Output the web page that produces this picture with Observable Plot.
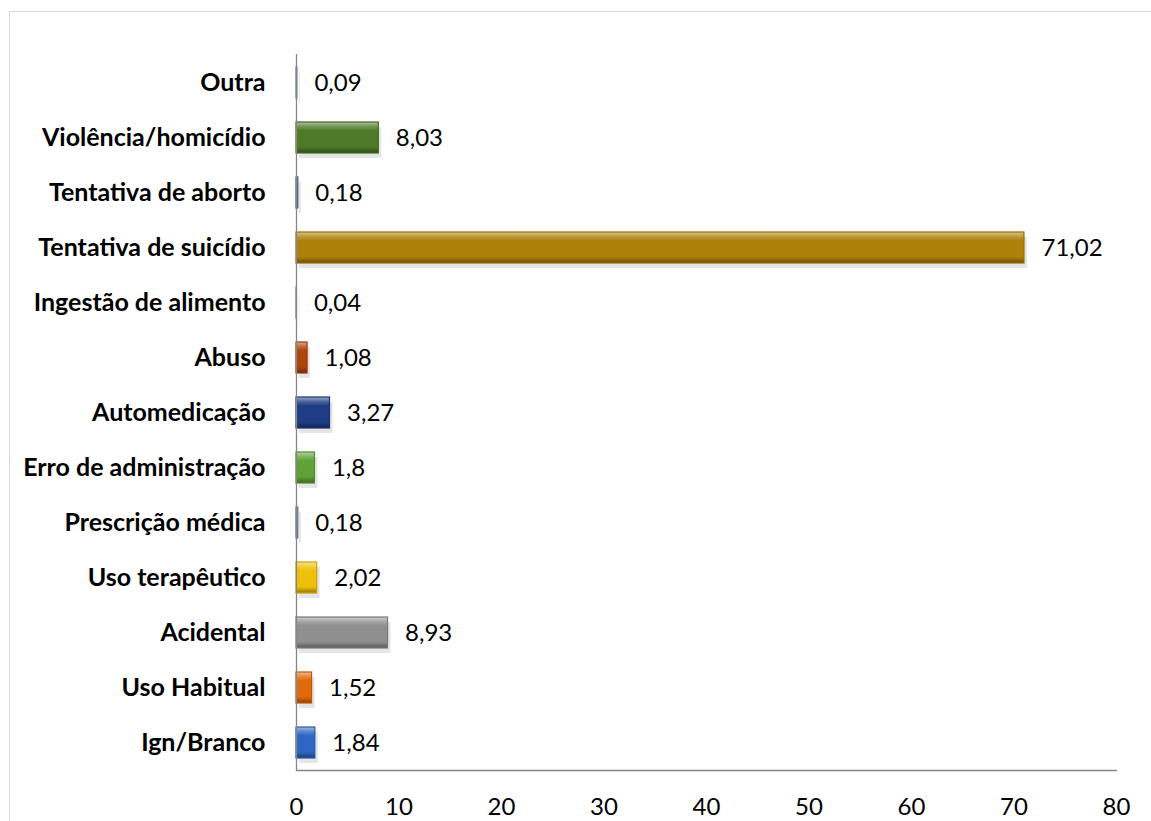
<!DOCTYPE html>
<html><head><meta charset="utf-8">
<script src="https://cdn.jsdelivr.net/npm/d3@7"></script>
<script src="https://cdn.jsdelivr.net/npm/@observablehq/plot@0.6"></script>
<style>
html,body{margin:0;padding:0;background:#fff;}
#wrap{position:relative;width:1151px;height:821px;overflow:hidden;}
#border{position:absolute;left:9px;top:11px;width:1200px;height:900px;border-left:1px solid #d9d9d9;border-top:1px solid #d9d9d9;}
#chart{position:absolute;left:0;top:0;}
</style></head>
<body><div id="wrap"><div id="border"></div><div id="chart"></div></div>
<script>
const categories = ["Outra","Violência/homicídio","Tentativa de aborto","Tentativa de suicídio","Ingestão de alimento","Abuso","Automedicação","Erro de administração","Prescrição médica","Uso terapêutico","Acidental","Uso Habitual","Ign/Branco"];
const values = [0.09, 8.03, 0.18, 71.02, 0.04, 1.08, 3.27, 1.8, 0.18, 2.02, 8.93, 1.52, 1.84];
const palette = ["#7f93b0","#4e7a27","#4a6b8e","#ad800a","#8a8a8a","#b0440a","#1f3d85","#5fa236","#6a89ae","#eec00a","#8f8f8f","#e0690c","#2f66c2"];
const xTicks = [0,10,20,30,40,50,60,70,80];

const data = categories.map((c,i)=>({cat:c, value:values[i], grad:`url(#g${i})`, edge:d3.interpolateRgb(palette[i], "#000")(0.15)}));

function shade(hex, k){ const c=d3.color(hex); return k>0 ? d3.interpolateRgb(c, "#fff")(k) : d3.interpolateRgb(c, "#000")(-k); }

const chart = Plot.plot({
  width:1151, height:821,
  marginLeft:296, marginRight:35, marginTop:54, marginBottom:51,
  style:{fontFamily:"Lato, 'Open Sans', sans-serif", fontSize:"24px", color:"#000", background:"transparent"},
  x:{domain:[0,80], ticks:xTicks},
  y:{domain:categories, paddingInner:0.44, paddingOuter:0.22},
  color:{type:"identity"},
  marks:[
    Plot.barX(data, {x:"value", y:"cat", fill:"#000", fillOpacity:0.1, dx:3, dy:5}),
    Plot.barX(data, {x:"value", y:"cat", fill:"grad", stroke:"edge", strokeWidth:1.2}),
    Plot.text(data, {x:"value", y:"cat", text:d=>String(d.value).replace(".", ","), dx:17, textAnchor:"start", fill:"#000", fontSize:24}),
    Plot.axisY({tickSize:0, tickPadding:31, fontWeight:"bold", fontSize:25, label:null}),
    Plot.axisX({ticks:xTicks, tickSize:0, tickPadding:27, fontSize:24, label:null, tickFormat:d=>String(d)}),
    Plot.ruleX([0], {stroke:"#868686", strokeWidth:1.3}),
    Plot.frame({anchor:"bottom", stroke:"#868686", strokeWidth:1.3})
  ]
});

const svg = d3.select(chart);
const defs = svg.insert("defs", ":first-child");
palette.forEach((col,i)=>{
  const g = defs.append("linearGradient").attr("id", `g${i}`).attr("x1",0).attr("y1",0).attr("x2",0).attr("y2",1);
  [[0, shade(col,0.55)],[0.14, shade(col,0.22)],[0.28, col],[0.8, col],[1, shade(col,-0.38)]].forEach(([o,c])=>g.append("stop").attr("offset",o).attr("stop-color",c));
});
document.getElementById("chart").appendChild(chart);
</script></body></html>
